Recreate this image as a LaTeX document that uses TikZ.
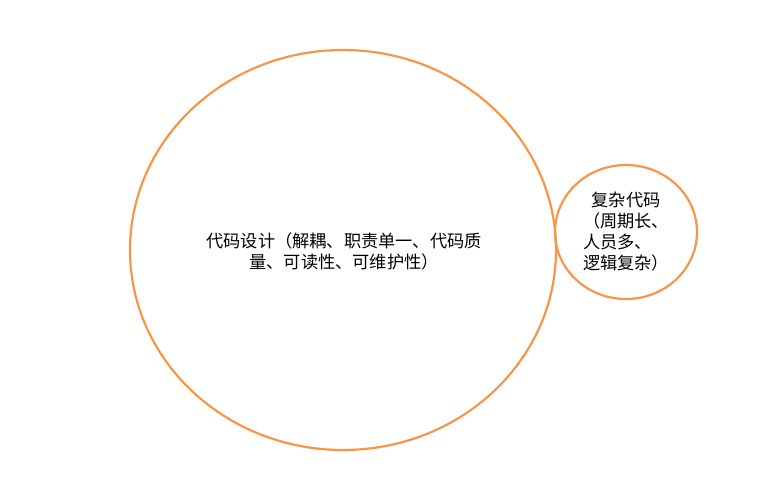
\documentclass[tikz,border=0pt]{standalone}
\usepackage{fontspec}
\setmainfont{Noto Sans CJK SC}
\definecolor{orng}{HTML}{F79646}
\begin{document}
\begin{tikzpicture}[x=1pt,y=-1pt,
  ring/.style={draw=orng,line width=2.2pt},
  txt/.style={font=\fontsize{17.2}{21}\selectfont,text=black,inner sep=0pt}]
\useasboundingbox (0,0) rectangle (779,500);
\draw[ring] (343,250) ellipse [x radius=213, y radius=200];
\draw[ring] (626,232) ellipse [x radius=71, y radius=67];
\node[txt,align=center] (big) at (344,251) {代码设计（解耦、职责单一、代码质\\量、可读性、可维护性）};
\node[txt,align=left] (small) at (626,232) {\hspace{0.5em}复杂代码\\（周期长、\\人员多、\\逻辑复杂）};
\end{tikzpicture}
\end{document}
